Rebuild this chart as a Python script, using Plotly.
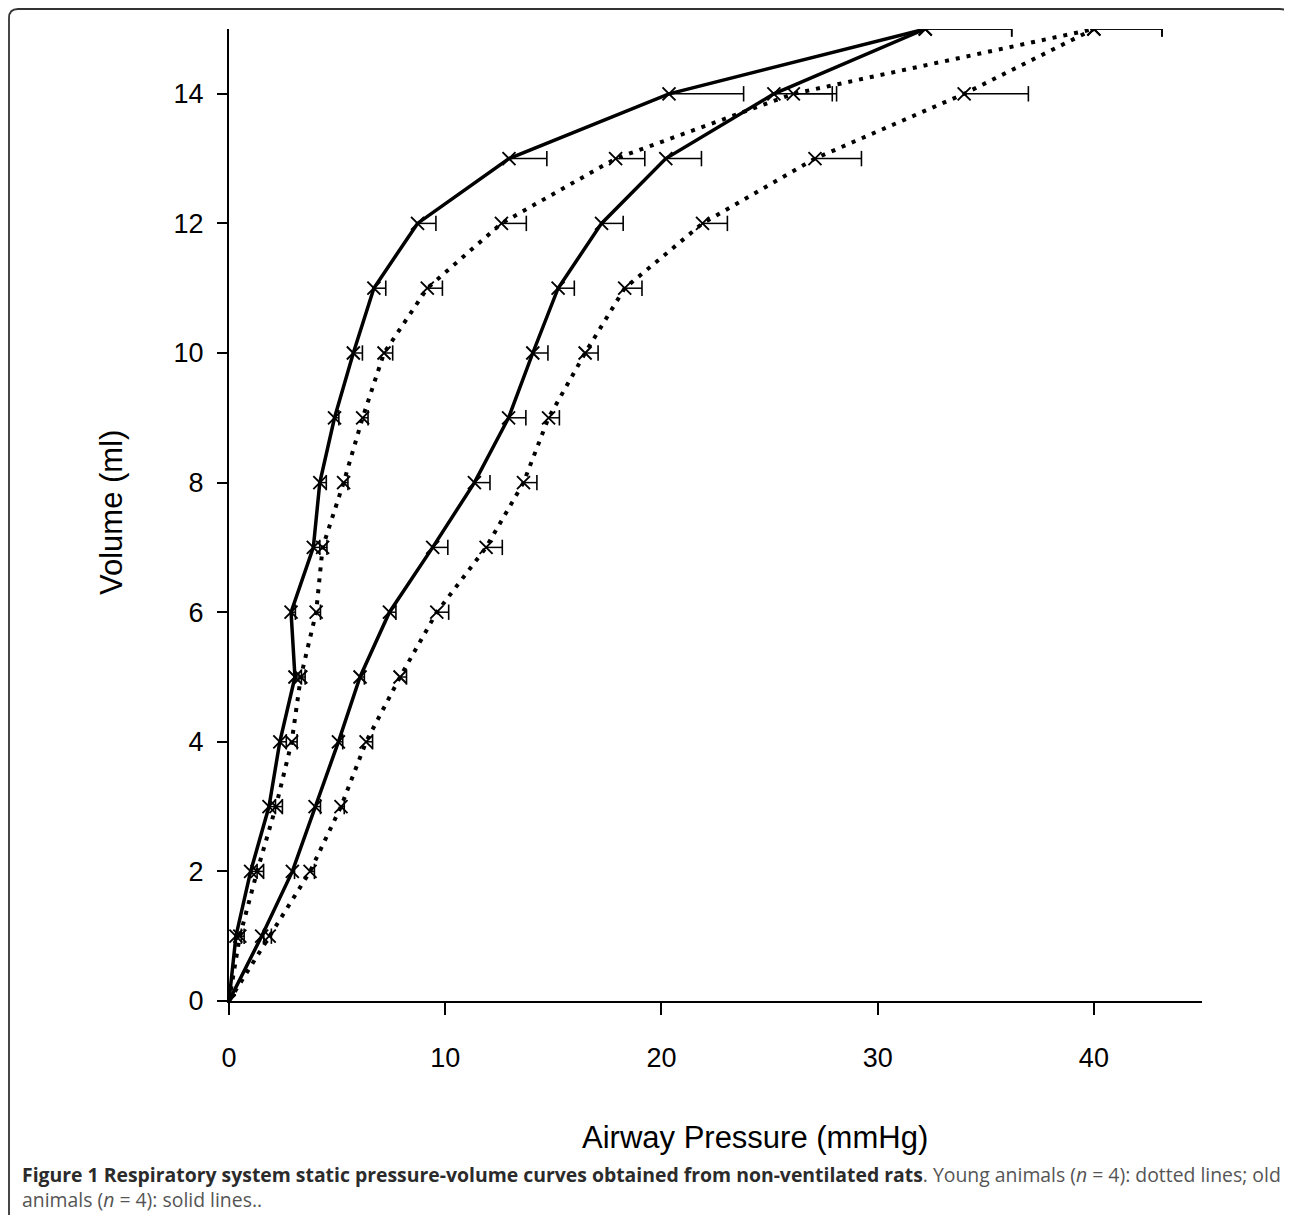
import plotly.graph_objects as go

# Volume (ml) levels
volume = [0, 1, 2, 3, 4, 5, 6, 7, 8, 9, 10, 11, 12, 13, 14, 15]

# Old animals (solid lines) - airway pressure (mmHg)
old_a = [0, 0.32, 1.0, 1.85, 2.35, 3.05, 2.87, 3.9, 4.2, 4.88, 5.75, 6.7, 8.72, 12.95, 20.35, 32.2]
old_a_err = [0, 0.25, 0.3, 0.3, 0.3, 0.3, 0.2, 0.3, 0.3, 0.2, 0.42, 0.55, 0.85, 1.75, 3.45, 4.0]
old_c = [0, 1.51, 2.93, 3.98, 5.06, 6.06, 7.42, 9.42, 11.35, 12.93, 14.05, 15.22, 17.23, 20.2, 25.2, 32.2]
old_c_err = [0, 0.1, 0.1, 0.25, 0.2, 0.2, 0.3, 0.7, 0.72, 0.8, 0.7, 0.75, 1.0, 1.65, 2.7, 4.0]

# Young animals (dotted lines)
young_b = [0, 0.5, 1.3, 2.17, 2.9, 3.32, 4.03, 4.33, 5.3, 6.18, 7.17, 9.17, 12.6, 17.88, 26.1, 40.0]
young_b_err = [0, 0.2, 0.3, 0.3, 0.25, 0.2, 0.2, 0.2, 0.2, 0.25, 0.4, 0.7, 1.15, 1.35, 2.0, 3.15]
young_d = [0, 1.86, 3.75, 5.18, 6.34, 7.91, 9.61, 11.89, 13.62, 14.78, 16.47, 18.3, 21.9, 27.1, 34.0, 40.0]
young_d_err = [0, 0.1, 0.2, 0.15, 0.3, 0.3, 0.55, 0.75, 0.62, 0.5, 0.6, 0.8, 1.15, 2.15, 2.97, 3.15]

x_ticks = [0, 10, 20, 30, 40]
y_ticks = [0, 2, 4, 6, 8, 10, 12, 14]

series = [
    (old_a, old_a_err, "solid"),
    (old_c, old_c_err, "solid"),
    (young_b, young_b_err, "dotted"),
    (young_d, young_d_err, "dotted"),
]

fig = go.Figure()

for xs, errs, style in series:
    # one-sided (positive) horizontal error bars
    ex, ey, cx, cy = [], [], [], []
    for x, e, v in zip(xs, errs, volume):
        if e > 0:
            ex += [x, x + e, None]
            ey += [v, v, None]
            cx.append(x + e)
            cy.append(v)
    fig.add_trace(go.Scatter(x=ex, y=ey, mode="lines",
                             line=dict(color="black", width=1.5),
                             hoverinfo="skip", showlegend=False))
    fig.add_trace(go.Scatter(x=cx, y=cy, mode="markers",
                             marker=dict(symbol="line-ns", size=11,
                                         line=dict(color="black", width=1.6)),
                             hoverinfo="skip", showlegend=False))
    if style == "solid":
        line = dict(color="black", width=3.5)
    else:
        line = dict(color="black", width=4, dash="4px,7px")
    fig.add_trace(go.Scatter(x=xs, y=volume, mode="lines+markers", line=line,
                             marker=dict(symbol="x-thin", size=13, color="black",
                                         line=dict(color="black", width=1.9)),
                             showlegend=False))

OFF = 8  # page body margin
PW, PH = 1292 - OFF, 1220 - OFF
# plot area in page pixels: x 229..1202, y 29..1001
L, R, T, B = 229 - OFF, 1292 - 1202, 29 - OFF, 1220 - 1001
pw, ph = PW - L - R, PH - T - B


def px(xp):
    return (xp - OFF - L) / pw


def py(yp):
    return (PH - B - (yp - OFF)) / ph


fig.update_layout(
    width=PW, height=PH,
    margin=dict(l=L, r=R, t=T, b=B, pad=0),
    paper_bgcolor="white", plot_bgcolor="white",
    font=dict(family="Liberation Sans, Arial, sans-serif", color="black"),
    xaxis=dict(range=[0, 45], tickvals=x_ticks, ticktext=[str(v) for v in x_ticks],
               showgrid=False, zeroline=False, showline=True, linecolor="black",
               linewidth=2, ticks="outside", ticklen=12, tickwidth=2, tickcolor="black",
               tickfont=dict(size=27), ticklabelstandoff=20),
    yaxis=dict(range=[0, 15], tickvals=y_ticks, ticktext=[str(v) for v in y_ticks],
               showgrid=False, zeroline=False, showline=True, linecolor="black",
               linewidth=2, ticks="outside", ticklen=10, tickwidth=2, tickcolor="black",
               tickfont=dict(size=27), ticklabelstandoff=8),
)

fig.add_annotation(text="Airway Pressure (mmHg)", xref="paper", yref="paper",
                   x=px(755), y=py(1137), xanchor="center", yanchor="middle",
                   showarrow=False, font=dict(size=31, color="black"))
fig.add_annotation(text="Volume (ml)", xref="paper", yref="paper",
                   x=px(112), y=py(513), xanchor="center", yanchor="middle",
                   textangle=-90, showarrow=False, font=dict(size=31, color="black"))

cap_font = dict(family="Open Sans, Noto Sans, sans-serif", size=19.4, color="#555555")
fig.add_annotation(
    text="<b><span style='color:#2b2b2b'>Figure 1 Respiratory system static pressure-volume curves "
         "obtained from non-ventilated rats</span></b>. "
         "Young animals (<i>n</i> = 4): dotted lines; old",
    xref="paper", yref="paper", x=px(20), y=py(1174), xanchor="left", yanchor="middle",
    showarrow=False, font=cap_font)
fig.add_annotation(
    text="animals (<i>n</i> = 4): solid lines..",
    xref="paper", yref="paper", x=px(20), y=py(1199), xanchor="left", yanchor="middle",
    showarrow=False, font=cap_font)

# frame around the figure (top and left edges with rounded corners)
x0, y0, x1, y1 = px(9), py(9), px(1289), py(1215)
rx, ry = 9 / pw, 9 / ph
path = (f"M {x0},{y1} L {x0},{y0 - ry} Q {x0},{y0} {x0 + rx},{y0} "
        f"L {x1 - rx},{y0} Q {x1},{y0} {x1},{y0 - ry}")
fig.add_shape(type="path", path=path, xref="paper", yref="paper",
              line=dict(color="#333333", width=1.8))

fig.write_html("out.html")
